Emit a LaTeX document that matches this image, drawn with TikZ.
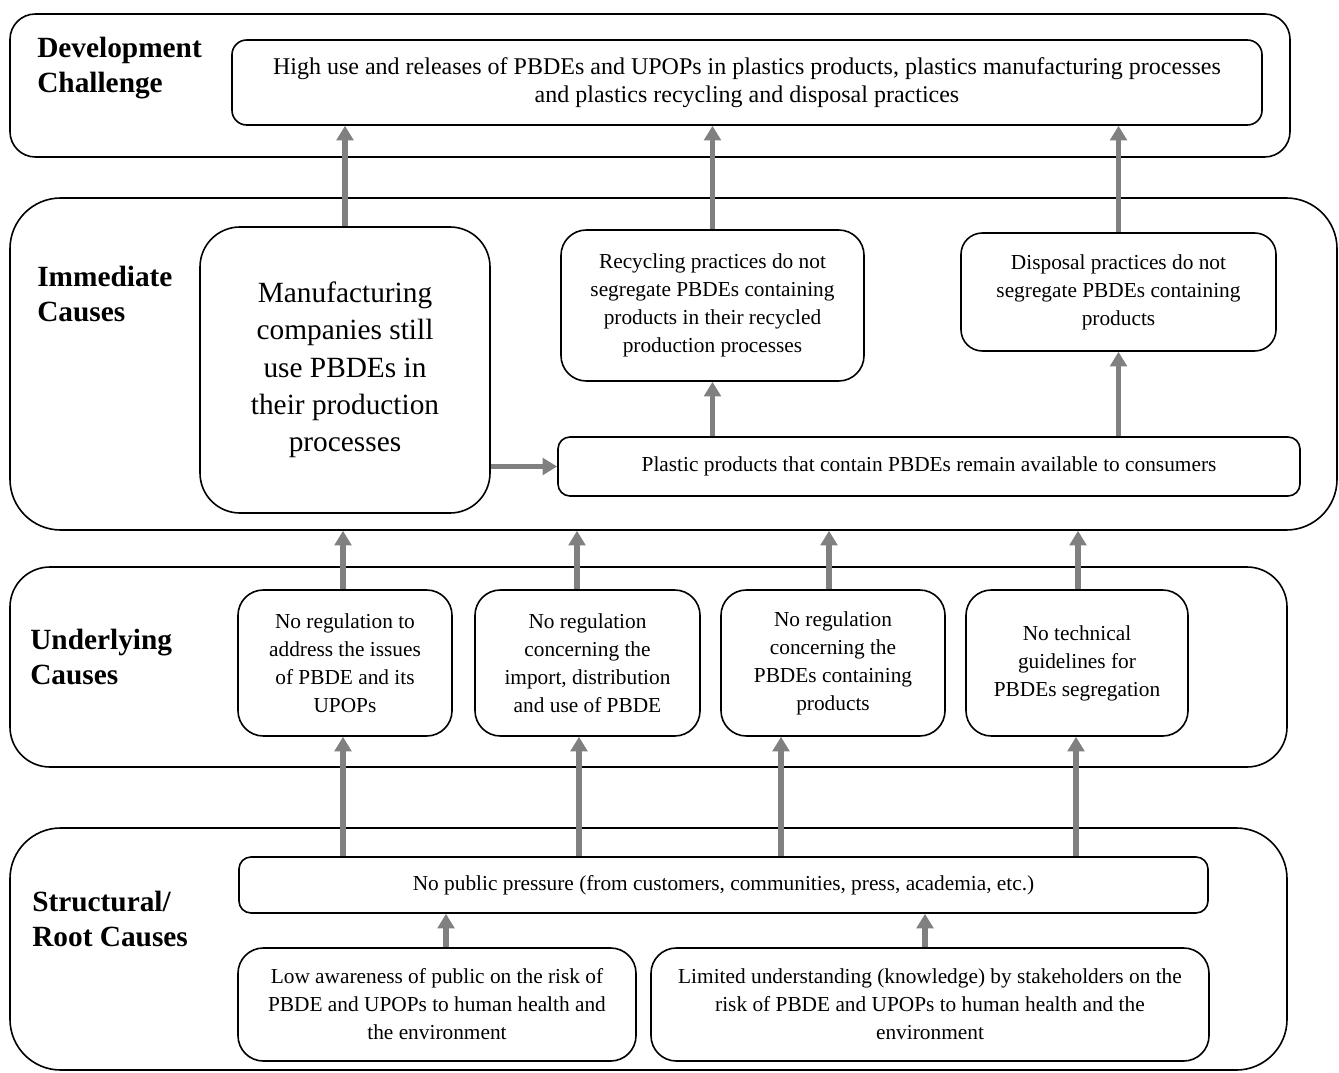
\documentclass[tikz,border=0pt]{standalone}
\usepackage{fontspec}
\setmainfont{Liberation Serif}
\usetikzlibrary{arrows.meta}
\definecolor{arrgray}{RGB}{128,128,128}
\begin{document}
\begin{tikzpicture}[x=0.75pt,y=-0.75pt,
  corners/.style n args={4}{at={({(#1+#3)/2},{(#2+#4)/2})},
    minimum width={(#3-#1)*0.75pt}, minimum height={(#4-#2)*0.75pt}},
  panel/.style={draw, line width=1.2pt, inner sep=0pt, rounded corners=#1},
  box/.style={draw, line width=1.2pt, inner sep=0pt, align=center,
    font=\fontsize{16}{21}\selectfont, rounded corners=#1},
  box/.default=19pt,
  big/.style={font=\fontsize{22}{28}\selectfont},
  mid/.style={font=\fontsize{18}{21}\selectfont},
  head/.style={anchor=north west, inner sep=0pt, align=left,
    font=\bfseries\fontsize{22}{26}\selectfont},
  arr/.style={draw=arrgray, line width=4pt, -{Triangle[length=11pt,width=12.5pt]}}
]
\useasboundingbox (0,0) rectangle (1339,1073);

% panels
\node[panel=19pt, corners={10}{14}{1290}{157}] (devp) {};
\node[panel=38pt, corners={10}{198}{1337}{530}] (imm) {};
\node[panel=30pt, corners={10}{567}{1287}{767}] (undp) {};
\node[panel=38pt, corners={10}{828}{1287}{1070}] (strp) {};

% headings
\node[head] (hdev) at (37,37) {Development\\Challenge};
\node[head] (himm) at (37,266) {Immediate\\Causes};
\node[head] (hund) at (30,629) {Underlying\\Causes};
\node[head] (hstr) at (32,891) {Structural/\\Root Causes};

% development challenge
\node[box=11pt, mid, corners={232}{40}{1262}{125}] (dev) {High use and releases of PBDEs and UPOPs in plastics products, plastics manufacturing processes\\and plastics recycling and disposal practices};

% immediate causes
\node[box=30pt, big, corners={200}{227}{490}{513}] (manu) {Manufacturing\\companies still\\use PBDEs in\\their production\\processes};
\node[box=19pt, corners={561}{230}{864}{381}] (rec) {Recycling practices do not\\segregate PBDEs containing\\products in their recycled\\production processes};
\node[box=16pt, corners={961}{233}{1276}{351}] (disp) {Disposal practices do not\\segregate PBDEs containing\\products};
\node[box=9pt, corners={558}{437}{1300}{496}] (plast) {Plastic products that contain PBDEs remain available to consumers};

% underlying causes
\node[box=19pt, corners={238}{590}{452}{736}] (u1) {No regulation to\\address the issues\\of PBDE and its\\UPOPs};
\node[box=19pt, corners={475}{590}{700}{736}] (u2) {No regulation\\concerning the\\import, distribution\\and use of PBDE};
\node[box=19pt, corners={721}{590}{945}{736}] (u3) {No regulation\\concerning the\\PBDEs containing\\products};
\node[box=19pt, corners={966}{590}{1188}{736}] (u4) {No technical\\guidelines for\\PBDEs segregation};

% structural causes
\node[box=9pt, corners={239}{857}{1208}{913}] (pub) {No public pressure (from customers, communities, press, academia, etc.)};
\node[box=19pt, corners={238}{948}{636}{1061}] (low) {Low awareness of public on the risk of\\PBDE and UPOPs to human health and\\the environment};
\node[box=19pt, corners={651}{948}{1209}{1061}] (lim) {Limited understanding (knowledge) by stakeholders on the\\risk of PBDE and UPOPs to human health and the\\environment};

% x positions of connectors
\coordinate (xa1) at (343,0);
\coordinate (xa2) at (577,0);
\coordinate (xa3) at (829,0);
\coordinate (xa4) at (1078,0);
\coordinate (xb1) at (343,0);
\coordinate (xb2) at (579,0);
\coordinate (xb3) at (781,0);
\coordinate (xb4) at (1076,0);
\coordinate (xl) at (446,0);
\coordinate (xm) at (925,0);

% connectors
\draw[arr] (manu.north) -- (manu.north |- dev.south);
\draw[arr] (rec.north) -- (rec.north |- dev.south);
\draw[arr] (disp.north) -- (disp.north |- dev.south);
\draw[arr] (rec.south |- plast.north) -- (rec.south);
\draw[arr] (disp.south |- plast.north) -- (disp.south);
\draw[arr] (manu.east |- plast.west) -- (plast.west);

\draw[arr] (xa1 |- u1.north) -- (xa1 |- imm.south);
\draw[arr] (xa2 |- u2.north) -- (xa2 |- imm.south);
\draw[arr] (xa3 |- u3.north) -- (xa3 |- imm.south);
\draw[arr] (xa4 |- u4.north) -- (xa4 |- imm.south);

\draw[arr] (xb1 |- pub.north) -- (xb1 |- u1.south);
\draw[arr] (xb2 |- pub.north) -- (xb2 |- u2.south);
\draw[arr] (xb3 |- pub.north) -- (xb3 |- u3.south);
\draw[arr] (xb4 |- pub.north) -- (xb4 |- u4.south);

\draw[arr] (xl |- low.north) -- (xl |- pub.south);
\draw[arr] (xm |- lim.north) -- (xm |- pub.south);
\end{tikzpicture}
\end{document}
